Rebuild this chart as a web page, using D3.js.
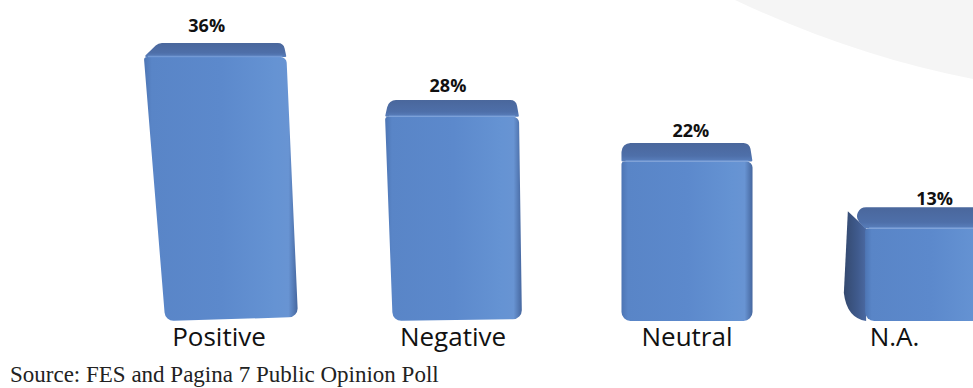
<!DOCTYPE html>
<html>
<head>
<meta charset="utf-8">
<script src="https://cdn.jsdelivr.net/npm/d3@7"></script>
<style>
  html, body { margin: 0; padding: 0; background: #fff; overflow: hidden; }
  svg { display: block; }
</style>
</head>
<body>
<svg id="chart" width="973" height="388"></svg>
<script>
// Survey answers and their shares (%)
const categories = ["Positive", "Negative", "Neutral", "N.A."];
const values = [36, 28, 22, 13];
const valueLabels = ["36%", "28%", "22%", "13%"];
const sourceNote = "Source: FES and Pagina 7 Public Opinion Poll";

const W = 973, H = 388;
const svg = d3.select("#chart");

// Soft grey backdrop swoosh in the upper right corner
svg.append("path")
  .attr("d", `M735,0 C815,38 895,64 ${W},79 L${W},0 Z`)
  .attr("fill", "#f5f5f5");

const x = d3.scaleBand()
  .domain(categories)
  .range([102, 1038])
  .paddingInner(0.44)
  .paddingOuter(0.22);

const y = d3.scaleLinear().domain([0, 36]).range([300, 43]);
const baseY = y(0) + 21;   // floor line the 3D blocks stand on
const viewX = 690;         // horizontal position of the viewpoint

const defs = svg.append("defs");

const frontGrad = defs.append("linearGradient").attr("id", "frontGrad")
  .attr("x1", "0").attr("y1", "0").attr("x2", "1").attr("y2", "0");
[[0, "#4d75b4"], [0.05, "#5985c7"], [0.5, "#5c89cc"], [0.85, "#6593d3"], [0.94, "#6894d3"], [1, "#46679f"]]
  .forEach(([o, c]) => frontGrad.append("stop").attr("offset", o).attr("stop-color", c));

const topGrad = defs.append("linearGradient").attr("id", "topGrad")
  .attr("x1", "0").attr("y1", "0").attr("x2", "0").attr("y2", "1");
[[0, "#4a679c"], [0.7, "#4e6fa9"], [1, "#5a80bd"]]
  .forEach(([o, c]) => topGrad.append("stop").attr("offset", o).attr("stop-color", c));

const sideGrad = defs.append("linearGradient").attr("id", "sideGrad")
  .attr("x1", "0").attr("y1", "0").attr("x2", "1").attr("y2", "0");
[[0, "#34496f"], [0.6, "#3f5a8c"], [1, "#4b69a2"]]
  .forEach(([o, c]) => sideGrad.append("stop").attr("offset", o).attr("stop-color", c));

// Closed polygon with rounded corners
function roundedPath(pts, radii) {
  const p = d3.path();
  const n = pts.length;
  p.moveTo((pts[n - 1][0] + pts[0][0]) / 2, (pts[n - 1][1] + pts[0][1]) / 2);
  for (let i = 0; i < n; i++) {
    const c = pts[i], nx = pts[(i + 1) % n];
    p.arcTo(c[0], c[1], nx[0], nx[1], radii[i]);
  }
  p.closePath();
  return p.toString();
}

const bw = x.bandwidth();
const bars = svg.append("g");

categories.forEach((cat, i) => {
  const v = values[i];
  const x0 = x(cat);
  const cx = x0 + bw / 2;
  const p = (cx - viewX) / 480;
  const neg = Math.max(0, -p), pos = Math.max(0, p);

  const yTop = y(v);
  const depth = 14 + (yTop - 43) * 0.045;
  const yFront = yTop + depth;
  const sideW = 40 * pos;

  const xl = x0 - 10 * neg * neg + sideW / 2;
  const xr = xl + bw + 12 * neg * neg;
  const dl = 22 * Math.pow(neg, 1.5);
  const dr = 12 * neg * neg;
  const inset = 15 * neg * neg;

  const g = bars.append("g");

  // left side wall, visible on blocks right of the viewpoint
  if (sideW > 0.5) {
    const sp = d3.path();
    sp.moveTo(xl - sideW + 2, yTop + 4);
    sp.lineTo(xl + 1, yFront);
    sp.lineTo(xl + 1, baseY);
    sp.quadraticCurveTo(xl - sideW + 1, baseY - 3, xl - sideW - 2, baseY - 28);
    sp.closePath();
    g.append("path").attr("d", sp.toString()).attr("fill", "url(#sideGrad)");
  }

  g.append("path")
    .attr("d", roundedPath([
      [xl, yFront], [xr, yFront], [xr + dr, baseY - 4 * neg], [xl + dl, baseY]
    ], [3, 6, 9, 9]))
    .attr("fill", "url(#frontGrad)");

  g.append("path")
    .attr("d", roundedPath([
      [xl - sideW + inset, yTop], [xr - 3, yTop], [xr, yFront], [xl, yFront]
    ], [9, 7, 1, 1]))
    .attr("fill", "url(#topGrad)");

  // bevel highlight along the front top edge
  g.append("line")
    .attr("x1", xl + 4).attr("x2", xr - 4)
    .attr("y1", yFront - 0.5).attr("y2", yFront - 0.5)
    .attr("stroke", "#7ea5df").attr("stroke-width", 1.5).attr("opacity", 0.7);

  // value label above the block
  const labX = (xl - sideW + inset + xr) / 2 + 20 * p + 4;
  svg.append("text")
    .attr("x", labX)
    .attr("y", yTop - 11 + (yTop - 43) * 0.055)
    .attr("text-anchor", "middle")
    .attr("font-family", "'Open Sans', sans-serif")
    .attr("font-weight", 700)
    .attr("font-size", 18)
    .attr("fill", "#111")
    .text(valueLabels[i]);

  // category label under the block
  svg.append("text")
    .attr("x", cx - 55 * pos)
    .attr("y", 346)
    .attr("text-anchor", "middle")
    .attr("font-family", "'Open Sans', sans-serif")
    .attr("font-size", 26)
    .attr("fill", "#111")
    .text(cat);
});

svg.append("text")
  .attr("x", 10)
  .attr("y", 382)
  .attr("font-family", "'Liberation Serif', serif")
  .attr("font-size", 23)
  .attr("fill", "#222")
  .text(sourceNote);
</script>
</body>
</html>
